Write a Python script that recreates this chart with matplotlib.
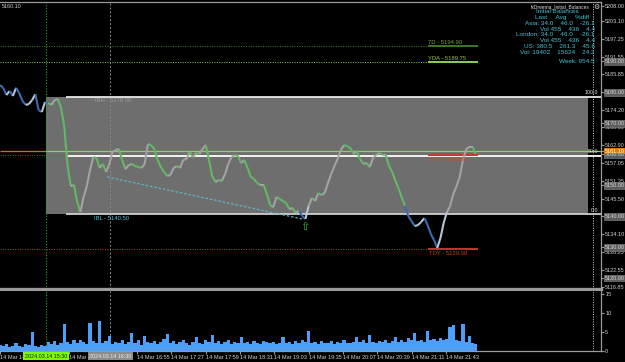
import numpy as np
import matplotlib
matplotlib.use('Agg')
import matplotlib.pyplot as plt
import matplotlib.transforms as mtransforms
from matplotlib.collections import LineCollection
from matplotlib.patches import Rectangle

plt.rcParams['font.family'] = ['Liberation Sans', 'DejaVu Sans']

# 3-minute bars starting 14:47 (minutes since midnight)
bar_start = 887
bar_step = 3
closes = [5182.3, 5181.4, 5179.1, 5180.4, 5178.8, 5181.4, 5179.7, 5177.2, 5175.9, 5176.2,
          5177.5, 5179.4, 5174.2, 5173.6, 5176.8, 5176.5, 5175.9, 5177.5, 5177.8, 5174.9,
          5168.7, 5156.4, 5149.6, 5150.0, 5144.5, 5141.2, 5146.1, 5149.6, 5154.8, 5159.0,
          5158.7, 5155.5, 5156.8, 5154.2, 5156.8, 5160.7, 5161.3, 5161.6, 5158.1, 5155.1,
          5156.4, 5156.8, 5156.1, 5155.8, 5155.5, 5156.8, 5163.2, 5162.9, 5161.6, 5158.1,
          5155.8, 5154.2, 5152.9, 5153.2, 5155.5, 5156.1, 5155.5, 5158.1, 5158.4, 5160.7,
          5159.0, 5160.3, 5160.0, 5161.6, 5162.9, 5158.1, 5152.9, 5150.9, 5151.6, 5151.3,
          5153.5, 5156.8, 5159.0, 5159.7, 5159.4, 5157.1, 5158.1, 5155.5, 5152.6, 5151.9,
          5150.6, 5150.0, 5150.0, 5147.1, 5143.5, 5142.8, 5146.1, 5145.4, 5144.8, 5144.1,
          5142.2, 5142.5, 5140.9, 5141.6, 5139.9, 5139.0, 5143.2, 5145.8, 5144.8, 5147.4,
          5146.7, 5147.4, 5150.6, 5153.5, 5156.1, 5158.4, 5161.3, 5162.9, 5162.6, 5161.9,
          5160.0, 5161.0, 5158.4, 5156.8, 5157.1, 5155.8, 5158.7, 5159.7, 5160.3, 5159.7,
          5159.7, 5156.1, 5154.2, 5151.3, 5148.7, 5145.8, 5143.2, 5139.9, 5138.3, 5136.7,
          5137.0, 5138.0, 5139.3, 5137.0, 5134.1, 5132.2, 5129.6, 5132.8, 5137.7, 5141.2,
          5143.2, 5147.1, 5149.6, 5152.6, 5158.1, 5161.6, 5162.3, 5162.3, 5160.0]
volumes = [1.6, 1.2, 1.8, 1.0, 1.4, 2.2, 1.3, 1.1, 1.9, 1.5,
           5.0, 1.4, 1.0, 1.6, 1.2, 2.3, 1.8, 2.6, 1.5, 2.0,
           7.0, 2.4, 1.9, 2.8, 2.2, 3.0, 2.5, 1.8, 7.4, 2.6,
           2.2, 7.9, 2.0, 2.7, 4.0, 1.9, 2.4, 2.1, 3.0, 1.8,
           2.5, 4.7, 2.2, 2.9, 1.7, 4.0, 2.3, 2.0, 2.6, 1.9,
           2.4, 3.1, 4.5, 2.0, 2.7, 1.8, 2.3, 2.9, 2.1, 1.7,
           2.5, 3.7, 2.2, 1.9, 2.8, 2.4, 4.2, 2.0, 2.6, 1.8,
           2.3, 2.9, 1.9, 2.5, 2.1, 3.7, 2.0, 2.4, 1.8, 2.6,
           2.2, 1.9, 2.7, 2.3, 2.0, 2.5, 1.8, 2.2, 3.7, 2.1,
           2.4, 1.9, 2.6, 2.0, 2.8, 2.3, 5.2, 2.1, 2.5, 1.9,
           2.6, 2.2, 2.0, 2.7, 1.8, 2.4, 2.1, 2.9, 2.2, 2.0,
           2.5, 3.7, 2.3, 2.8, 2.0, 4.2, 2.4, 2.1, 2.7, 2.3,
           2.9, 2.2, 2.6, 3.7, 2.4, 2.8, 2.5, 3.5, 2.9, 4.7,
           2.6, 3.0, 2.4, 5.3, 2.8, 3.2, 2.7, 3.4, 2.9, 3.1,
           6.3, 6.8, 3.0, 2.6, 7.1, 2.5, 4.0, 2.2, 1.8]

session_open = 930   # 15:30
ib_end = 990         # 16:30
day_end = 1440
ib_high = 5178.55
ib_low = 5140.50
ib_mid = 5159.52
bid = 5161.10
session_ref = 5161.0

# levels: name, price, line colour, text colour
levels = [('7D', 5194.90, '#3d7a1f', '#6aa84f'),
          ('YDA', 5189.75, '#8fd14f', '#8bc34a'),
          ('VOA', 5159.80, '#c0392b', '#e0402e'),
          ('TDY', 5129.30, '#c0392b', '#d03a2a')]

scale_prices = [5208.00, 5203.10, 5197.25, 5191.55, 5185.85, 5174.20, 5168.60,
                5162.90, 5157.05, 5151.35, 5145.50, 5134.10, 5128.25, 5122.55, 5116.85]
grid_prices = [5190, 5180, 5170, 5160, 5150, 5140, 5130, 5120]

tick_times = [887 + 32 * i for i in range(14)]
tick_labels = []
for t in tick_times:
    # labels under the vertical-line date boxes are not visible
    if abs(t - session_open) < 20 or abs(t - ib_end) < 20:
        tick_labels.append('')
    else:
        tick_labels.append('14 Mar %d:%02d' % (t // 60, t % 60))

info_lines = [('Initial Balances', 579, 11.7),
              ('Last     Avg     %diff', 589, 17.5),
              ('Asia: 34.0    46.0    -26.1', 595, 23.7),
              ('Vol 455    436    4.4', 595, 29.3),
              ('London: 34.0    46.0    -26.1', 595, 35.0),
              ('Vol 455    436    4.4', 595, 40.5),
              ('US: 380.5    261.3    45.6', 595, 47.0),
              ('Vol: 19402    15624    24.2', 595, 52.5),
              ('Week: 954.5', 595, 61.7)]

W, H = 625, 362
fig = plt.figure(figsize=(W / 100, H / 100), dpi=100, facecolor='black')
ax = fig.add_axes([0, 1 - 289 / H, 601 / W, 287 / H])
axv = fig.add_axes([0, 1 - 351 / H, 601 / W, 60 / H], sharex=ax)

for a in (ax, axv):
    a.set_facecolor('black')
    a.spines['left'].set_visible(False)
    for s in ('top', 'bottom', 'right'):
        a.spines[s].set_color('#9a9a9a')
        a.spines[s].set_linewidth(0.9)
    a.yaxis.tick_right()
    a.tick_params(axis='y', colors='#9a9a9a', labelcolor='#d0d0d0', labelsize=4.0, length=2, pad=1)
    a.set_axisbelow(True)
ax.spines['bottom'].set_linewidth(2.4)
axv.spines['top'].set_visible(False)

ax.set_xlim(887.2, 1447.8)
ax.set_ylim(5116.32, 5209.20)
axv.set_ylim(0, 15.8)

# price scale
yt = scale_prices + grid_prices + [bid]
ylab = ['%.2f' % p for p in yt]
ax.set_yticks(yt, ylab)
for lbl, p in zip(ax.get_yticklabels(), yt):
    if p == bid:
        lbl.set_color('white')
        lbl.set_bbox(dict(boxstyle='square,pad=0.15', fc='#e07b00', ec='none'))
        lbl.set_zorder(5)
    elif p in grid_prices:
        lbl.set_color('#d8d8d8')
        lbl.set_bbox(dict(boxstyle='square,pad=0.15', fc='#5c5c5c', ec='#8a8a8a', lw=0.4))
ax.set_yticks(grid_prices, minor=True)
ax.tick_params(axis='y', which='minor', length=0)
ax.grid(which='minor', axis='y', color='#6e6e6e', ls=(0, (2, 2)), lw=0.6)
ax.tick_params(axis='x', bottom=False, labelbottom=False)

# IB box and lines
ax.add_patch(Rectangle((session_open, ib_low), 1436 - session_open, ib_high - ib_low,
                       fc='#6e6e6e', ec='none', zorder=1))
ax.hlines([ib_high, ib_mid, ib_low], 949, 1447.8, colors=['#e6e6e6', '#ffffff', '#cfcfcf'],
          lw=1.3, zorder=2.6)
for txt, p in (('100.0', ib_high), ('50.0', ib_mid), ('0.0', ib_low)):
    ax.text(1445, p + 0.4, txt, ha='right', va='bottom', fontsize=3.8, color='#e0e0e0', zorder=4)
ax.text(976, ib_high - 1.3, 'IBH - %.2f' % ib_high, fontsize=4.2, color='#9c9c9c', va='center', zorder=4)
ax.text(975, ib_low - 1.3, 'IBL - %.2f' % ib_low, fontsize=4.2, color='#5bc0de', va='center', zorder=4)

# bid and reference line
ax.hlines(bid, 887.2, session_open, color='#d2691e', lw=0.9, zorder=2)
ax.hlines(session_ref, session_open, 1447.8, color='#8fcf6a', lw=0.9, zorder=2.5)

# vertical session lines
for a in (ax, axv):
    a.axvline(session_open, color='#2f9e2f', ls=(0, (1, 1.5)), lw=0.8, zorder=2)
    a.axvline(ib_end, color='#8a8a8a', ls=(0, (2, 2)), lw=0.7, zorder=2)
    a.axvline(day_end, color='#d0d0d0', ls=(0, (1, 1.5)), lw=0.7, zorder=2)

# levels
for name, p, lc, tc in levels:
    ax.hlines(p, 887.2, 1286, color=lc, ls=(0, (1, 1.5)), lw=0.7, zorder=1.5)
    ax.hlines(p, 1286, 1333, color=lc, lw=1.4, zorder=2.7)
    if p > ib_high:
        ax.text(1286, p + 0.5, '%s - %.2f' % (name, p), fontsize=4.2, color=tc, va='bottom', zorder=4)
    else:
        ax.text(1287, p - 0.7, '%s - %.2f' % (name, p), fontsize=4.2, color=tc, va='top', zorder=6)

# trend line and arrow
ax.plot([987, 1170], [5152.6, 5138.9], color='#5bb8c8', ls=(0, (2, 1.5)), lw=0.9, zorder=2.8)
ax.text(1171.7, 5136.4, '\u21e7', color='#3fbf3f', fontsize=8, ha='center', va='center',
        family=['DejaVu Sans'], zorder=4)

# price line, coloured by direction and by IB zone
times = bar_start + bar_step * np.arange(len(closes))
pts = np.column_stack([times, closes])
segs = np.stack([pts[:-1], pts[1:]], axis=1)
cols = []
for i in range(len(closes) - 1):
    inside = times[i] >= session_open and min(closes[i], closes[i + 1]) >= ib_low
    up = closes[i + 1] >= closes[i]
    if inside:
        cols.append('#a3a3a3' if up else '#63b963')
    else:
        cols.append('#b8c4d8' if up else '#3d6cb0')
ax.add_collection(LineCollection(segs, colors=cols, linewidths=1.5, zorder=3))

# volume
axv.bar(times, volumes, width=3, color='#4c9ef8', lw=0, zorder=3)
axv.set_yticks([0, 5, 10, 15], ['0', '5', '10', '15'])
axv.set_yticks([5, 10], minor=True)
axv.tick_params(axis='y', which='minor', length=0)
axv.grid(which='minor', axis='y', color='#6e6e6e', ls=(0, (2, 2)), lw=0.6)

axv.set_xticks(tick_times, tick_labels)
axv.tick_params(axis='x', colors='#9a9a9a', labelcolor='#d0d0d0', labelsize=4.0, length=2, pad=1)
for lbl in axv.get_xticklabels():
    lbl.set_ha('left')

trans = mtransforms.blended_transform_factory(axv.transData, axv.transAxes)
axv.text(session_open, -0.085, '2024.03.14 15:30', transform=trans, ha='center', va='center',
         fontsize=3.9, color='#1a1a1a', clip_on=False, zorder=6,
         bbox=dict(boxstyle='square,pad=0.3', fc='#7cfc00', ec='none'))
axv.text(ib_end, -0.085, '2024.03.14 16:30', transform=trans, ha='center', va='center',
         fontsize=3.9, color='#eeeeee', clip_on=False, zorder=6,
         bbox=dict(boxstyle='square,pad=0.3', fc='#8c8c8c', ec='none'))

# texts on top
fig.text(2 / W, 1 - 6 / H, '5160.10', fontsize=3.9, color='#d0d0d0', va='center')
fig.text(590 / W, 1 - 6.5 / H, 'fxDreema_Initial_Balances', fontsize=3.5, color='#dddddd',
         ha='right', va='center')
fig.text(596 / W, 1 - 6.5 / H, '\u2699', fontsize=5, color='#dddddd', ha='center', va='center',
         family=['DejaVu Sans'])
for txt, x, y in info_lines:
    fig.text(x / W, 1 - y / H, txt, fontsize=4.6, color='#45c1d1', ha='right', va='center')

fig.savefig('out.png', dpi=100, facecolor='black')
